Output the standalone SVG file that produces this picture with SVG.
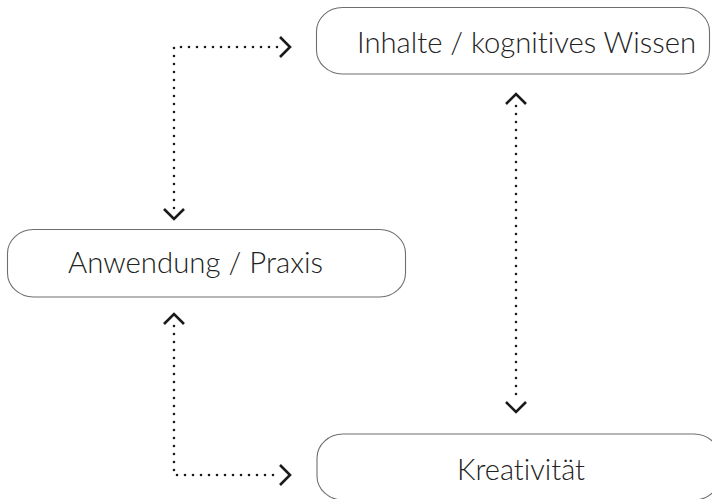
<svg xmlns="http://www.w3.org/2000/svg" width="712" height="499" viewBox="0 0 712 499">
  <defs>
    <style>
      .box { fill: #ffffff; stroke: #6e6e6e; stroke-width: 1.1; }
      .label { font-family: Lato, "Open Sans", "Liberation Sans", sans-serif; font-weight: 300; font-size: 29px; fill: #222222; font-variant-ligatures: none; }
      .dots { fill: none; stroke: #1a1a1a; stroke-width: 2.6; stroke-linecap: round; stroke-dasharray: 0 8; }
      .head { fill: none; stroke: #1a1a1a; stroke-width: 2.6; stroke-linecap: butt; stroke-linejoin: miter; }
    </style>
  </defs>
  <rect width="712" height="499" fill="#ffffff"/>

  <g id="node-inhalte">
    <rect class="box" x="316.5" y="7.5" width="393" height="66.5" rx="26" ry="24"/>
    <text class="label" x="357" y="53" textLength="339" lengthAdjust="spacingAndGlyphs">Inhalte / kognitives Wissen</text>
  </g>

  <g id="node-anwendung">
    <rect class="box" x="7.5" y="229.5" width="398" height="67.5" rx="26" ry="24"/>
    <text class="label" x="68" y="273" textLength="255" lengthAdjust="spacingAndGlyphs">Anwendung / Praxis</text>
  </g>

  <g id="node-kreativitaet">
    <rect class="box" x="317" y="434" width="403" height="66" rx="26" ry="24"/>
    <text class="label" x="457" y="480" textLength="128" lengthAdjust="spacingAndGlyphs">Kreativität</text>
  </g>

  <g id="connectors">
    <!-- Anwendung <-> Inhalte -->
    <path class="dots" d="M174 208 V47 H280"/>
    <path class="head" d="M280 37 L290 47 L280 57"/>
    <path class="head" d="M164 209 L174 219 L184 209"/>

    <!-- Anwendung <-> Kreativität -->
    <path class="dots" d="M174 326 V475 H280"/>
    <path class="head" d="M280 465 L290 475 L280 485"/>
    <path class="head" d="M164 324 L174 314 L184 324"/>

    <!-- Inhalte <-> Kreativität -->
    <path class="dots" d="M516 106 V400"/>
    <path class="head" d="M506 104 L516 94 L526 104"/>
    <path class="head" d="M506 402 L516 412 L526 402"/>
  </g>
</svg>
